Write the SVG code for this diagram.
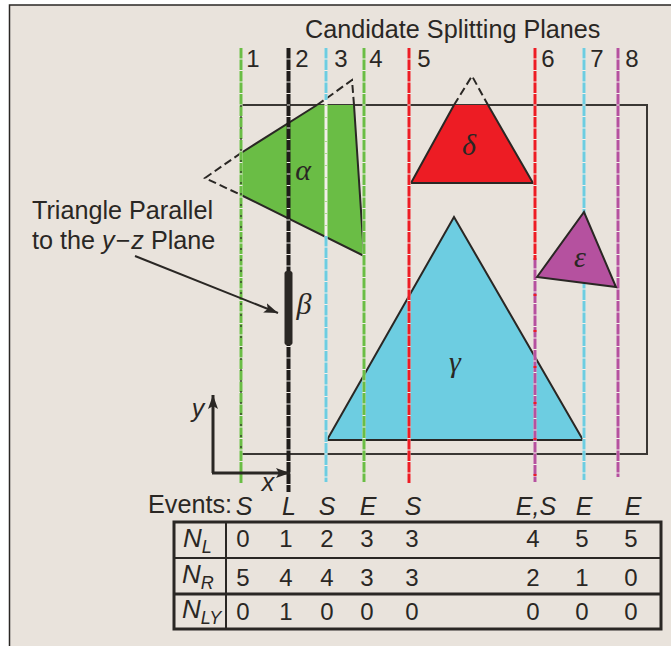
<svg xmlns="http://www.w3.org/2000/svg" width="671" height="646" viewBox="0 0 671 646">
<style>
text{font-family:"Liberation Sans",Arial,sans-serif;fill:#2a2724}
.t{font-size:25.2px}
.n{font-size:24px;text-anchor:middle}
.i{font-style:italic;font-size:25px;text-anchor:middle}
.m{font-style:italic;font-size:26px}
.s{font-style:italic;font-size:18px}
.g{font-family:"Liberation Serif","DejaVu Serif",serif;font-style:italic;font-size:30px;text-anchor:middle}
.o{fill:none;stroke:#2a2724;stroke-width:2}
.d{fill:none;stroke:#2a2724;stroke-width:2;stroke-dasharray:8 4}
.u{fill:none;stroke:#f3efea;stroke-width:3}
.p{fill:none;stroke-width:3;stroke-dasharray:10.5 1}
.b{fill:none;stroke:#2a2724;stroke-width:3}
</style>
<defs>
<marker id="ah" markerUnits="userSpaceOnUse" markerWidth="16" markerHeight="12" refX="14" refY="5" orient="auto"><path d="M0 0L14 5L0 10L3 5Z" fill="#2a2724"/></marker>
</defs>
<rect width="671" height="646" fill="#ffffff"/>
<rect x="9.5" y="5" width="670" height="650" fill="#e9e3dc" stroke="#2a2724" stroke-width="1.5"/>
<g id="bounding-box"><rect x="241" y="105" width="406" height="349" fill="none" stroke="#3a3734" stroke-width="2"/></g>
<g id="node-alpha">
<path d="M241 153L317 105L354 105L364 256L241 195Z" fill="#6abd45"/>
<path class="o" d="M241 153L317 105M354 105L364 256L241 195"/>
<path class="d" d="M241 153L205 178L241 195M317 105L327 98L352 80L354 105"/>
<text class="g" x="303" y="180">α</text>
</g>
<g id="node-delta">
<path d="M411 183L454 105L488 105L533 183Z" fill="#ed1c24"/>
<path class="o" d="M411 183L454 105M488 105L533 183L411 183"/>
<path class="d" d="M454 105L472 76L488 105"/>
<text class="g" x="469" y="155">δ</text>
</g>
<g id="node-gamma">
<path d="M327 440L454 217L583 440Z" fill="#6dcde1" stroke="#2a2724" stroke-width="2"/>
<text class="g" x="455" y="372">γ</text>
</g>
<g id="connectors">
<path class="u" d="M241 48V483M288.500 48V492M326 48V482M364 48V482M409 48V483M535 48V482M584 48V480M618 48V477"/>
<path class="p" d="M241 48V483" stroke="#6abd45"/>
<path d="M241 105V454" fill="none" stroke="#2a2724" stroke-width="1.2" stroke-dasharray="2 9"/>
<path class="p" d="M288.500 48V492" stroke="#1f1c1a" style="stroke-width:4"/>
<path class="p" d="M326 48V100M326 236V482" stroke="#6dcde1"/>
<path d="M326 105V230" fill="none" stroke="#a9d88c" stroke-width="3" stroke-dasharray="1 11"/>
<path class="p" d="M364 48V482" stroke="#6abd45"/>
<path class="p" d="M409 48V483" stroke="#ed1c24"/>
<path class="p" d="M535 48V258" stroke="#ed1c24"/>
<path class="p" d="M535 258V482" stroke="#b5519f"/>
<path d="M535 258V482" fill="none" stroke="#ed1c24" stroke-width="3" stroke-dasharray="2 34"/>
<path class="p" d="M584 48V480" stroke="#6dcde1"/>
<path class="p" d="M618 48V477" stroke="#b5519f"/>
<path d="M135 256L278 313" stroke="#2a2724" stroke-width="2" fill="none" marker-end="url(#ah)"/>
<path d="M213 473V395" stroke="#2a2724" stroke-width="3" fill="none" marker-end="url(#ah)"/>
<path d="M212 473H290" stroke="#2a2724" stroke-width="3" fill="none" marker-end="url(#ah)"/>
</g>
<g id="node-beta">
<rect x="284.500" y="271" width="8" height="74" rx="2.500" fill="#2a2724"/>
<text class="g" x="304" y="314">β</text>
</g>
<g id="node-epsilon">
<path d="M537 277L584 212L616 287Z" fill="#b5519f" stroke="#2a2724" stroke-width="2"/>
<text class="g" x="580" y="267">ε</text>
</g>
<g id="labels">
<text class="t" x="305" y="38">Candidate Splitting Planes</text>
<text class="n" x="253" y="67">1</text><text class="n" x="302" y="67">2</text><text class="n" x="341" y="67">3</text><text class="n" x="376" y="67">4</text><text class="n" x="424" y="67">5</text><text class="n" x="548" y="67">6</text><text class="n" x="597" y="67">7</text><text class="n" x="632" y="67">8</text>
<text class="t" x="32" y="219">Triangle Parallel</text>
<text class="t" x="32" y="249">to the <tspan font-style="italic">y</tspan><tspan dx="1">−</tspan><tspan font-style="italic" dx="1">z</tspan> Plane</text>
<text class="i" x="198" y="417">y</text>
<text class="i" x="268" y="491">x</text>
<text class="t" x="148" y="513">Events:</text>
<text class="i" x="244" y="515">S</text><text class="i" x="289" y="515">L</text><text class="i" x="327" y="515">S</text><text class="i" x="368" y="515">E</text><text class="i" x="413" y="515">S</text><text class="i" x="536" y="515">E,S</text><text class="i" x="584" y="515">E</text><text class="i" x="633" y="515">E</text>
</g>
<g id="table">
<rect x="174" y="522" width="487" height="107" fill="none" stroke="#2a2724" stroke-width="3"/>
<path d="M174 558H661" stroke="#2a2724" stroke-width="2" fill="none"/>
<path class="b" d="M174 594H661"/>
<path d="M226 523V629" stroke="#2a2724" stroke-width="2" fill="none"/>
<text class="m" x="183" y="547">N<tspan class="s" dy="6">L</tspan></text>
<text class="m" x="182" y="583">N<tspan class="s" dy="6">R</tspan></text>
<text class="m" x="182" y="618">N<tspan class="s" dy="6">LY</tspan></text>
<text class="n" x="243" y="547">0</text><text class="n" x="286" y="547">1</text><text class="n" x="327" y="547">2</text><text class="n" x="367" y="547">3</text><text class="n" x="412" y="547">3</text><text class="n" x="533" y="547">4</text><text class="n" x="582" y="547">5</text><text class="n" x="631" y="547">5</text>
<text class="n" x="243" y="586">5</text><text class="n" x="286" y="586">4</text><text class="n" x="327" y="586">4</text><text class="n" x="367" y="586">3</text><text class="n" x="412" y="586">3</text><text class="n" x="533" y="586">2</text><text class="n" x="582" y="586">1</text><text class="n" x="631" y="586">0</text>
<text class="n" x="243" y="620">0</text><text class="n" x="286" y="620">1</text><text class="n" x="327" y="620">0</text><text class="n" x="367" y="620">0</text><text class="n" x="412" y="620">0</text><text class="n" x="533" y="620">0</text><text class="n" x="582" y="620">0</text><text class="n" x="631" y="620">0</text>
</g>
</svg>
